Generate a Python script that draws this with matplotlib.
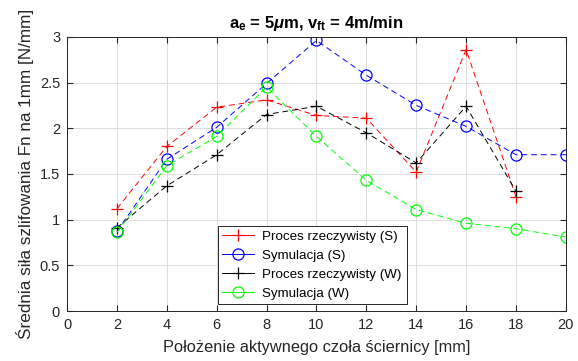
import numpy as np
import matplotlib.pyplot as plt

plt.rcParams['font.family'] = ['Liberation Sans', 'DejaVu Sans']
plt.rcParams['mathtext.fontset'] = 'custom'
plt.rcParams['mathtext.rm'] = 'Liberation Sans'
plt.rcParams['mathtext.bf'] = 'Liberation Sans:bold'
plt.rcParams['mathtext.it'] = 'Liberation Sans:bold:italic'

# data
x_real = [2, 4, 6, 8, 10, 12, 14, 16, 18]
x_sim = [2, 4, 6, 8, 10, 12, 14, 16, 18, 20]
real_s = [1.12, 1.80, 2.23, 2.31, 2.14, 2.11, 1.52, 2.86, 1.25]
sim_s = [0.87, 1.66, 2.01, 2.49, 2.96, 2.58, 2.25, 2.02, 1.71, 1.71]
real_w = [0.91, 1.37, 1.71, 2.15, 2.24, 1.95, 1.62, 2.24, 1.31]
sim_w = [0.86, 1.59, 1.91, 2.45, 1.91, 1.43, 1.11, 0.96, 0.90, 0.81]

labels = ['Proces rzeczywisty (S)', 'Symulacja (S)',
          'Proces rzeczywisty (W)', 'Symulacja (W)']

fig = plt.figure(figsize=(5.78, 3.61), dpi=100)
ax = fig.add_axes([0.116, 0.1385, 0.863, 0.7595])

dash = (0, (6, 4))
ax.plot(x_real, real_s, '+', color='#FF0000', ls=dash, lw=0.7, ms=9, mew=0.9, label=labels[0])
ax.plot(x_sim, sim_s, 'o', color='#0000FF', ls=dash, lw=0.7, ms=8, mew=0.9,
        mfc='none', label=labels[1])
ax.plot(x_real, real_w, '+', color='black', ls=dash, lw=0.7, ms=9, mew=0.9, label=labels[2])
ax.plot(x_sim, sim_w, 'o', color='#00FF00', ls=dash, lw=0.7, ms=8, mew=0.9,
        mfc='none', label=labels[3])

ax.set_xlim(0, 20)
ax.set_ylim(0, 3)
ax.set_xticks(np.arange(0, 21, 2))
ax.set_yticks(np.arange(0, 3.01, 0.5))
ax.set_yticklabels(['0', '0.5', '1', '1.5', '2', '2.5', '3'])
ax.grid(True, color='#dcdcdc', lw=0.7)
ax.set_axisbelow(True)
ax.tick_params(direction='in', top=True, right=True, labelsize=10.5, colors='#262626',
               length=4, pad=5)
for s in ax.spines.values():
    s.set_color('#262626')
    s.set_linewidth(0.7)

ax.set_xlabel('Położenie aktywnego czoła ściernicy [mm]', fontsize=11.8, color='#262626', labelpad=6)
ax.set_ylabel('Średnia siła szlifowania Fn na 1mm [N/mm]', fontsize=12.3, color='#262626', labelpad=4)
ax.set_title(r'$\mathbf{a_e}$ = 5$\mu$m, $\mathbf{v_{ft}}$ = 4m/min', fontsize=12,
             fontweight='bold', pad=6)

leg = ax.legend(loc='lower left', bbox_to_anchor=(0.302, 0.024), fontsize=9.6,
                fancybox=False, framealpha=1, edgecolor='#262626', borderpad=0.35,
                labelspacing=0.5, handlelength=2.4, handletextpad=0.6, borderaxespad=0)
leg.get_frame().set_linewidth(0.7)
for h in leg.legend_handles:
    h.set_linestyle('-')

fig.savefig('out.png', dpi=100)
